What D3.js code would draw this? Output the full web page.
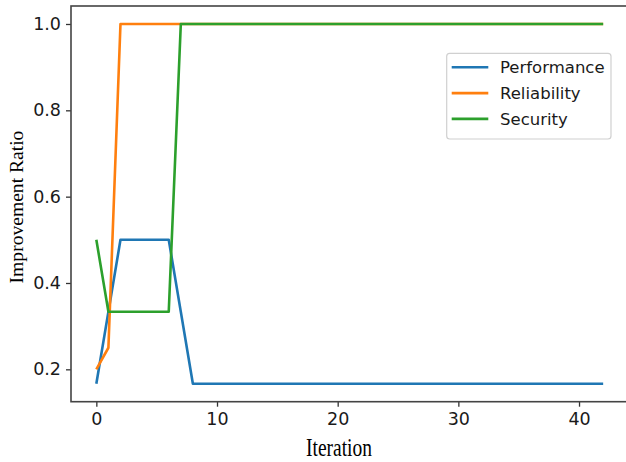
<!DOCTYPE html>
<html>
<head>
<meta charset="utf-8">
<script src="https://cdn.jsdelivr.net/npm/d3@7"></script>
<style>
  html, body { margin: 0; padding: 0; background: #fff; }
  svg { display: block; }
</style>
</head>
<body>
<svg id="chart" width="626" height="462"></svg>
<script>
// ---- data ----
const iterations = [0,1,2,3,4,5,6,7,8,9,10,11,12,13,14,15,16,17,18,19,20,21,22,23,24,25,26,27,28,29,30,31,32,33,34,35,36,37,38,39,40,41,42];
const performance = [0.1667,0.3333,0.5,0.5,0.5,0.5,0.5,0.3333,0.1667,0.1667,0.1667,0.1667,0.1667,0.1667,0.1667,0.1667,0.1667,0.1667,0.1667,0.1667,0.1667,0.1667,0.1667,0.1667,0.1667,0.1667,0.1667,0.1667,0.1667,0.1667,0.1667,0.1667,0.1667,0.1667,0.1667,0.1667,0.1667,0.1667,0.1667,0.1667,0.1667,0.1667,0.1667];
const reliability = [0.2,0.25,1.0,1.0,1.0,1.0,1.0,1.0,1.0,1.0,1.0,1.0,1.0,1.0,1.0,1.0,1.0,1.0,1.0,1.0,1.0,1.0,1.0,1.0,1.0,1.0,1.0,1.0,1.0,1.0,1.0,1.0,1.0,1.0,1.0,1.0,1.0,1.0,1.0,1.0,1.0,1.0,1.0];
const security = [0.5,0.3333,0.3333,0.3333,0.3333,0.3333,0.3333,1.0,1.0,1.0,1.0,1.0,1.0,1.0,1.0,1.0,1.0,1.0,1.0,1.0,1.0,1.0,1.0,1.0,1.0,1.0,1.0,1.0,1.0,1.0,1.0,1.0,1.0,1.0,1.0,1.0,1.0,1.0,1.0,1.0,1.0,1.0,1.0];
const seriesNames = ["Performance", "Reliability", "Security"];
const seriesColors = ["#1f77b4", "#ff7f0e", "#2ca02c"];
const xTicks = [0, 10, 20, 30, 40];
const yTicks = [0.2, 0.4, 0.6, 0.8, 1.0];
const xLabel = "Iteration";
const yLabel = "Improvement Ratio";

(function () {
// ---- layout ----
const svg = d3.select("#chart");
const mLeft = 71, mRight = 628.5, mTop = 6, mBottom = 401.7;
const x = d3.scaleLinear().domain([-2.1, 44.1]).range([mLeft, mRight]);
const y = d3.scaleLinear().domain([0.125, 1.04167]).range([mBottom, mTop]);

const seriesData = [performance, reliability, security];

// lines
const line = d3.line().x((d, i) => x(iterations[i])).y(d => y(d));
seriesData.forEach((vals, k) => {
  svg.append("path")
    .datum(vals)
    .attr("d", line)
    .attr("fill", "none")
    .attr("stroke", seriesColors[k])
    .attr("stroke-width", 2.6)
    .attr("stroke-linejoin", "round");
});

// axes
const tickFont = "DejaVu Sans, sans-serif";
const xAxis = d3.axisBottom(x).tickValues(xTicks).tickFormat(d3.format("d")).tickSize(5).tickPadding(6);
const yAxis = d3.axisLeft(y).tickValues(yTicks).tickFormat(d3.format(".1f")).tickSize(5).tickPadding(5);

const gx = svg.append("g").attr("transform", `translate(0,${mBottom})`).call(xAxis);
const gy = svg.append("g").attr("transform", `translate(${mLeft},0)`).call(yAxis);
[gx, gy].forEach(g => {
  g.select(".domain").remove();
  g.selectAll(".tick line").attr("stroke", "#333").attr("stroke-width", 1.3);
  g.selectAll(".tick text").attr("fill", "#1a1a1a").style("font-family", tickFont).style("font-size", "17.5px");
});

// spines
svg.append("rect")
  .attr("x", mLeft).attr("y", mTop)
  .attr("width", mRight - mLeft).attr("height", mBottom - mTop)
  .attr("fill", "none").attr("stroke", "#444").attr("stroke-width", 1.6);

// axis labels
svg.append("text")
  .attr("transform", "translate(339,456) scale(1,1.3)")
  .attr("text-anchor", "middle")
  .style("font-family", "Liberation Serif, Times New Roman, serif")
  .style("font-size", "19.5px")
  .attr("fill", "#000")
  .text(xLabel);

svg.append("text")
  .attr("transform", "translate(23,207) rotate(-90) scale(1.12,1.1)")
  .attr("text-anchor", "middle")
  .style("font-family", "Liberation Serif, Times New Roman, serif")
  .style("font-size", "17.5px")
  .attr("fill", "#000")
  .text(yLabel);

// legend
const lg = svg.append("g");
lg.append("rect")
  .attr("x", 446.7).attr("y", 53.3).attr("width", 164.3).attr("height", 85.7)
  .attr("rx", 3).attr("fill", "#fff").attr("fill-opacity", 0.9)
  .attr("stroke", "#d0d0d0").attr("stroke-width", 1.2);
seriesNames.forEach((name, k) => {
  const yy = 67.3 + k * 25.8;
  lg.append("line")
    .attr("x1", 451.7).attr("x2", 488.3).attr("y1", yy).attr("y2", yy)
    .attr("stroke", seriesColors[k]).attr("stroke-width", 2.6);
  lg.append("text")
    .attr("x", 500).attr("y", yy + 6)
    .style("font-family", tickFont).style("font-size", "16.5px")
    .attr("fill", "#1a1a1a")
    .text(name);
});
})();
</script>
</body>
</html>
